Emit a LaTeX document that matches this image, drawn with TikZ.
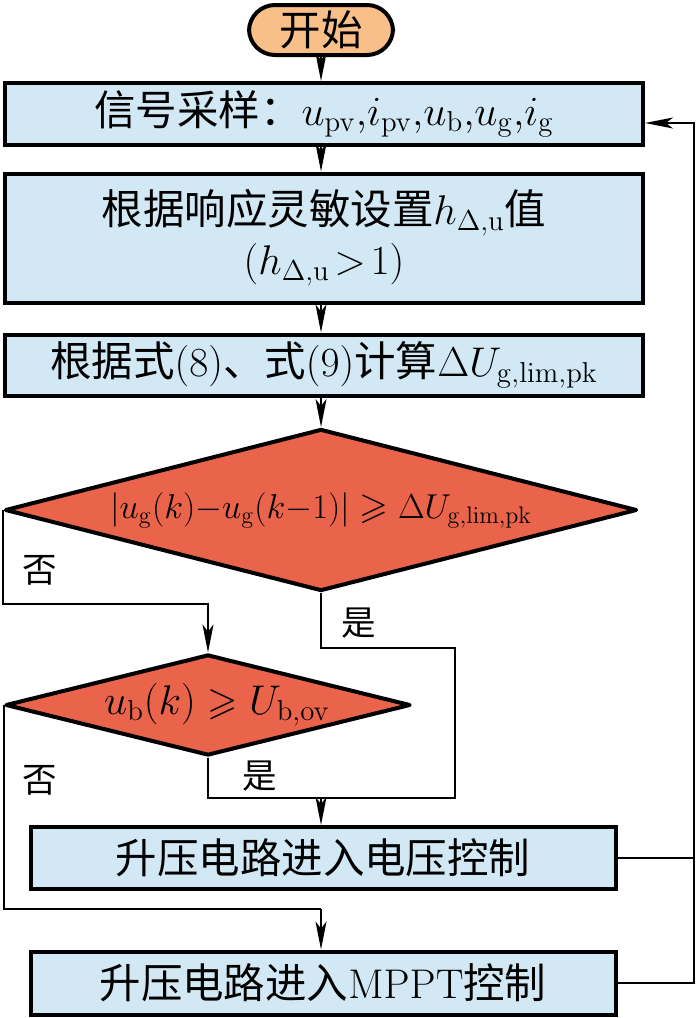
\documentclass[tikz,border=0pt]{standalone}
\usepackage{amsmath,amssymb}
\usepackage[no-math]{fontspec}
\setmainfont{Noto Sans CJK SC}
\usepackage{xcolor}
\usetikzlibrary{arrows.meta, shapes.geometric}

\definecolor{StartOrange}{RGB}{249,191,136}
\definecolor{BoxBlue}{RGB}{210,232,245}
\definecolor{DecRed}{RGB}{233,100,75}

\begin{document}
\begin{tikzpicture}[x=0.5pt, y=-0.5pt,
  font=\fontsize{20.74}{25}\selectfont,
  terminal/.style={rectangle, rounded corners=13pt, draw=black,
    line width=2pt, fill=StartOrange, minimum width=72pt,
    minimum height=25pt, inner sep=0pt},
  %
  process/.style={rectangle, draw=black, line width=2pt, fill=BoxBlue,
    minimum width=319pt, minimum height=31pt, align=center, inner sep=0pt},
  %
  shortproc/.style={process, minimum width=292.5pt},
  %
  decision/.style={diamond, draw=black, line width=2pt, line join=round,
    fill=DecRed, inner sep=0pt, font=\fontsize{19.5}{23}\selectfont},
  %
  answer/.style={font=\fontsize{17.28}{20}\selectfont, inner sep=0pt},
  %
  arr/.style={-{Stealth[length=14pt, width=5.5pt, inset=3.5pt]}}
  ]

  \tikzset{every path/.style={line width=1pt}}

  \useasboundingbox (0,0) rectangle (700,1018);

  \begin{scope}
    \node [terminal] (start) at (321,30) {开始};
    \node [process] (sample) at (324,114)
      {信号采样：$u_{\mathrm{pv}}{,}i_{\mathrm{pv}}{,}u_{\mathrm{b}}{,}u_{\mathrm{g}}{,}i_{\mathrm{g}}$};
    \node [process, minimum height=64.5pt] (hset) at (324,238)
      {根据响应灵敏设置$h_{\Delta,\mathrm{u}}$值\\$(h_{\Delta,\mathrm{u}}\!>\!1)$};
    \node [process, minimum height=30.5pt] (calc) at (324,365)
      {根据式$(8)$、式$(9)$计算$\Delta U_{\mathrm{g,lim,pk}}$};
    \node [decision, minimum width=316pt, minimum height=81pt,
      font=\fontsize{18.5}{22}\selectfont] (jump) at (321,510)
      {\makebox[0pt]{$|u_{\mathrm{g}}(k){-}u_{\mathrm{g}}(k{-}1)|\geqslant\Delta U_{\mathrm{g,lim,pk}}$}};
    \node [decision, minimum width=202.5pt, minimum height=50.5pt] (over) at (208,705)
      {\makebox[0pt]{\hspace{9pt}$u_{\mathrm{b}}(k)\geqslant U_{\mathrm{b,ov}}$}};
    \node [shortproc] (vctrl) at (323,858) {升压电路进入电压控制};
    \node [shortproc, minimum height=31.5pt] (mppt) at (323,983)
      {升压电路进入$\mathrm{MPPT}$控制};
    %
    \node [answer] (no1) at (40,570) {否};
    \node [answer] (yes1) at (359,623) {是};
    \node [answer] (no2) at (40,780) {否};
    \node [answer] (yes2) at (260,776) {是};
  \end{scope}

  \begin{scope}
    \coordinate (yesjoin) at (321,798);
    \coordinate (nojoin) at (321,909);
    % main chain
    \draw [arr] (start.south) -- (start.south |- sample.north);
    \draw [arr] (sample.south -| start) -- (hset.north -| start);
    \draw [arr] (hset.south -| start) -- (calc.north -| start);
    \draw [arr] (calc.south -| jump) -- (jump.north);
    % branches
    \draw [arr] (jump.west) -- ++(0,94) -| (over.north);
    \draw (jump.south) -- ++(0,55) -| ++(134,150) -- (yesjoin);
    \draw (over.south) |- (yesjoin);
    \draw [arr] (yesjoin) -- (yesjoin |- vctrl.north);
    \draw (over.west) |- (nojoin);
    \draw [arr] (nojoin) -- (nojoin |- mppt.north);
    % feedback
    \draw [arr] (mppt.east) -- ++(76,0) coordinate (fb)
      |- ([yshift=-4.5pt]sample.east);
    \draw (vctrl.east) -- (vctrl.east -| fb);
  \end{scope}

\end{tikzpicture}
\end{document}
